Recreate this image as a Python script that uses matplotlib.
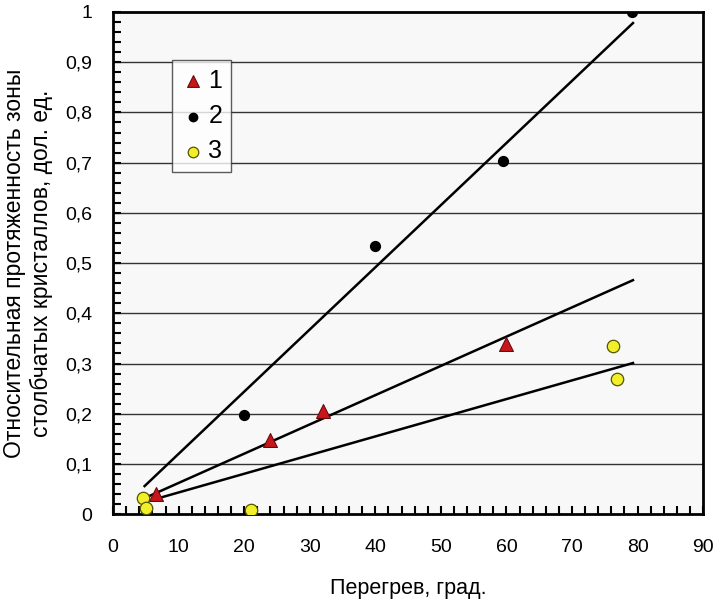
import numpy as np
import matplotlib
matplotlib.use('Agg')
import matplotlib.pyplot as plt
from matplotlib.ticker import MultipleLocator, FuncFormatter

plt.rcParams['font.family'] = ['Liberation Sans', 'DejaVu Sans']

# series 1 - red triangles
x1 = [6.5, 24, 32, 60]
y1 = [0.04, 0.148, 0.206, 0.339]
# series 2 - black dots
x2 = [20, 40, 59.5, 79.2]
y2 = [0.198, 0.534, 0.703, 1.0]
# series 3 - yellow points
x3 = [4.5, 5, 21, 76.3, 76.9]
y3 = [0.033, 0.012, 0.009, 0.335, 0.269]

# trend lines (start / end)
line_x = [4.8, 79.3]
line1_y = [0.032, 0.466]
line2_y = [0.056, 0.978]
line3_y = [0.024, 0.301]

fig = plt.figure(figsize=(7.16, 6), dpi=100)
ax = fig.add_axes([0.158, 0.143, 0.824, 0.837])
ax.set_facecolor('#f8f8f8')

for yy in np.arange(0.1, 1.0, 0.1):
    ax.axhline(yy, color='#333333', lw=1.0, zorder=1)

ax.plot(line_x, line2_y, color='black', lw=1.8, zorder=2)
ax.plot(line_x, line1_y, color='black', lw=1.8, zorder=2)
ax.plot(line_x, line3_y, color='black', lw=1.8, zorder=2)

ax.scatter(x1, y1, marker='^', s=100, color='#c8161d', edgecolor='#6b0a0a', lw=0.8, zorder=3, label='1')
ax.scatter(x2, y2, marker='o', s=50, color='black', zorder=3, label='2')
ax.scatter(x3, y3, marker='o', s=80, color='#f2ef2a', edgecolor='#555500', lw=0.9, zorder=3, label='3')

ax.set_xlim(0, 90)
ax.set_ylim(0, 1)
ax.xaxis.set_major_locator(MultipleLocator(10))
ax.xaxis.set_minor_locator(MultipleLocator(2))
ax.yaxis.set_major_locator(MultipleLocator(0.1))
ax.yaxis.set_minor_locator(MultipleLocator(0.02))
ax.yaxis.set_major_formatter(FuncFormatter(lambda v, p: ('%g' % round(v, 1)).replace('.', ',')))

ax.tick_params(axis='both', which='both', direction='in', top=False, right=False, labelsize=14, pad=18)
ax.tick_params(axis='both', which='major', length=6, width=1.5)
ax.tick_params(axis='both', which='minor', length=6, width=1.5)
ax.tick_params(axis='y', pad=15)

for sp in ax.spines.values():
    sp.set_linewidth(2)
    sp.set_color('black')

ax.set_xlabel('Перегрев, град.', fontsize=15.5, labelpad=16)
ax.set_ylabel('Относительная протяженность зоны\nстолбчатых кристаллов, дол. ед.', fontsize=16.5,
              labelpad=9, linespacing=1.2)

leg = ax.legend(loc='upper left', bbox_to_anchor=(0.1, 0.904), borderaxespad=0, fontsize=18, frameon=True,
                fancybox=False, edgecolor='#333333', handletextpad=0.1, borderpad=0.35,
                handlelength=1.0, labelspacing=0.45, markerscale=0.85)
leg.get_frame().set_linewidth(1.0)
leg.get_frame().set_facecolor('white')

fig.savefig('out.png', dpi=100)
